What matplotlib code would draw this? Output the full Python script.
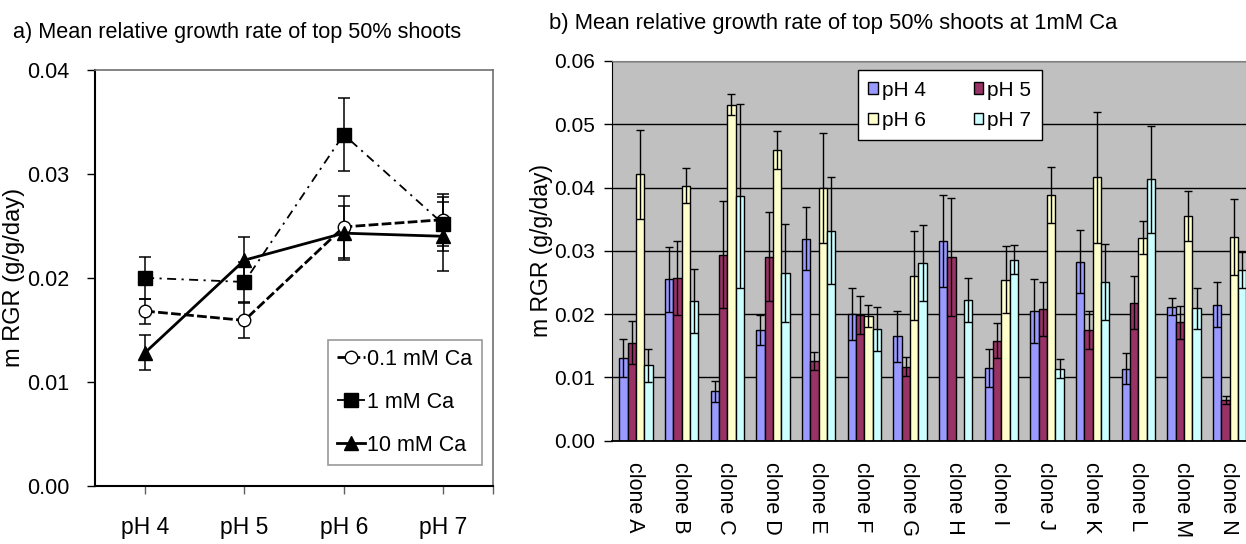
import numpy as np
import matplotlib
matplotlib.use("Agg")
import matplotlib.pyplot as plt
from matplotlib.lines import Line2D
from matplotlib.patches import Patch

font = "Liberation Sans"

# ---- panel a data ----
ph_labels = ["pH 4", "pH 5", "pH 6", "pH 7"]
ca01_mean = [0.0168, 0.0159, 0.0249, 0.0256]
ca01_err = [0.0012, 0.0017, 0.0030, 0.0025]
ca1_mean = [0.0200, 0.0196, 0.0338, 0.0252]
ca1_err = [0.0020, 0.0019, 0.0035, 0.0026]
ca10_mean = [0.0128, 0.0217, 0.0243, 0.0240]
ca10_err = [0.0017, 0.0022, 0.0026, 0.0033]

# ---- panel b data ----
clones = ["clone A", "clone B", "clone C", "clone D", "clone E", "clone F", "clone G",
          "clone H", "clone I", "clone J", "clone K", "clone L", "clone M", "clone N"]
ph4 = [0.0130, 0.0255, 0.0078, 0.0175, 0.0319, 0.0200, 0.0165, 0.0316, 0.0115, 0.0205, 0.0283, 0.0114, 0.0212, 0.0215]
ph4_err = [0.0030, 0.0051, 0.0017, 0.0023, 0.0050, 0.0041, 0.0040, 0.0073, 0.0030, 0.0051, 0.0050, 0.0024, 0.0013, 0.0035]
ph5 = [0.0155, 0.0257, 0.0294, 0.0291, 0.0126, 0.0198, 0.0117, 0.0290, 0.0158, 0.0208, 0.0175, 0.0218, 0.0187, 0.0064]
ph5_err = [0.0034, 0.0058, 0.0084, 0.0070, 0.0014, 0.0030, 0.0015, 0.0093, 0.0028, 0.0042, 0.0030, 0.0042, 0.0026, 0.0006]
ph6 = [0.0421, 0.0403, 0.0531, 0.0459, 0.0399, 0.0197, 0.0261, np.nan, 0.0254, 0.0388, 0.0416, 0.0321, 0.0355, 0.0322]
ph6_err = [0.0070, 0.0028, 0.0017, 0.0030, 0.0087, 0.0017, 0.0070, np.nan, 0.0053, 0.0044, 0.0103, 0.0026, 0.0040, 0.0060]
ph7 = [0.0119, 0.0221, 0.0387, 0.0265, 0.0332, 0.0176, 0.0281, 0.0222, 0.0286, 0.0114, 0.0251, 0.0413, 0.0209, 0.0270]
ph7_err = [0.0026, 0.0051, 0.0145, 0.0078, 0.0085, 0.0035, 0.0060, 0.0035, 0.0023, 0.0015, 0.0060, 0.0085, 0.0032, 0.0028]
ph_colors = ["#9999FF", "#993366", "#FFFFCC", "#CCFFFF"]

fig = plt.figure(figsize=(12.46, 5.44), dpi=100)

# ================= panel a =================
ax1 = fig.add_axes([0.0766, 0.1075, 0.3188, 0.7636])
x = np.arange(len(ph_labels))

series = [
    (ca01_mean, ca01_err, "0.1 mM Ca", dict(marker="o", mfc="white", ms=9, ls=(0, (3.5, 1.2)), lw=2.0)),
    (ca1_mean, ca1_err, "1 mM Ca", dict(marker="s", mfc="black", ms=10, ls=(0, (5, 3, 1.2, 3)), lw=1.3)),
    (ca10_mean, ca10_err, "10 mM Ca", dict(marker="^", mfc="black", ms=10, ls="-", lw=2.0)),
]
handles = []
for mean, err, lab, st in series:
    ax1.errorbar(x, mean, yerr=err, fmt="none", ecolor="black", elinewidth=1.1,
                 capsize=4, capthick=1.1, zorder=2)
    ax1.plot(x, mean, color="black", mec="black", mew=1.0, zorder=3, **st)
    handles.append(Line2D([], [], color="black", mec="black", mew=1.0, **st))

ax1.set_xlim(-0.5, 3.5)
ax1.set_ylim(0, 0.04)
ax1.set_yticks([0, 0.01, 0.02, 0.03, 0.04])
ax1.set_yticklabels(["0.00", "0.01", "0.02", "0.03", "0.04"], fontfamily=font, fontsize=15.5)
ax1.set_xticks(x)
ax1.set_xticklabels(ph_labels, fontfamily=font, fontsize=16.5)
ax1.set_xticks([3.5], minor=True)
ax1.tick_params(axis="y", direction="out", length=6, width=1, pad=13)
ax1.tick_params(axis="x", which="both", direction="out", length=6, width=1, color="#606060", pad=16)
for s in ["left", "bottom"]:
    ax1.spines[s].set_color("black")
    ax1.spines[s].set_linewidth(1.5)
for s in ["top", "right"]:
    ax1.spines[s].set_color("#707070")
    ax1.spines[s].set_linewidth(1.2)
ax1.set_ylabel("m RGR (g/g/day)", fontfamily=font, fontsize=17)
ax1.yaxis.set_label_coords(-0.178, 0.5)

leg1 = ax1.legend(handles, [s[2] for s in series], loc="lower right",
                  bbox_to_anchor=(0.972, 0.05), prop={"family": font, "size": 15.5},
                  handlelength=1.3, handletextpad=0.1, labelspacing=1.02, borderpad=0.42,
                  fancybox=False, frameon=True, borderaxespad=0)
leg1.get_frame().set_edgecolor("#808080")
leg1.get_frame().set_linewidth(1.2)

fig.text(0.0102, 0.941, "a) Mean relative growth rate of top 50% shoots",
         fontfamily=font, fontsize=15.6, va="center", ha="left")

# ================= panel b =================
ax2 = fig.add_axes([0.4909, 0.1899, 0.5133, 0.698])
ax2.set_facecolor("#C0C0C0")
xc = np.arange(len(clones))
w = 0.183
groups = [(ph4, ph4_err), (ph5, ph5_err), (ph6, ph6_err), (ph7, ph7_err)]
for j, (vals, errs) in enumerate(groups):
    pos = xc + (j - 1.5) * w + 0.03
    ax2.bar(pos, vals, width=w, color=ph_colors[j], edgecolor="black", linewidth=1.0, zorder=2)
    ax2.errorbar(pos, vals, yerr=errs, fmt="none", ecolor="black", elinewidth=1.0,
                 capsize=3, capthick=1.0, zorder=3)

ax2.set_xlim(-0.5, len(clones) - 0.5)
ax2.set_ylim(0, 0.06)
yt = [0, 0.01, 0.02, 0.03, 0.04, 0.05, 0.06]
ax2.set_yticks(yt)
ax2.set_yticklabels(["%.2f" % v for v in yt], fontfamily=font, fontsize=15)
ax2.yaxis.grid(True, color="black", linewidth=1.0, zorder=1)
ax2.set_axisbelow(True)
ax2.set_xticks(xc)
ax2.set_xticklabels(clones, rotation=-90, fontfamily=font, fontsize=15.5, va="top", ha="center")
ax2.tick_params(axis="x", length=0, pad=15)
ax2.tick_params(axis="y", direction="out", length=6, width=1, pad=6)
ax2.spines["right"].set_visible(False)
ax2.spines["top"].set_color("#808080")
ax2.spines["left"].set_color("black")
ax2.spines["bottom"].set_color("black")
ax2.spines["bottom"].set_linewidth(1.3)
ax2.set_ylabel("m RGR (g/g/day)", fontfamily=font, fontsize=16.5)
ax2.yaxis.set_label_coords(-0.092, 0.5)

ph_handles = [Patch(facecolor=c, edgecolor="black", linewidth=1.0) for c in ph_colors]
ph_names = ["pH 4", "pH 5", "pH 6", "pH 7"]
order = [0, 2, 1, 3]
leg2 = ax2.legend([ph_handles[i] for i in order], [ph_names[i] for i in order], ncol=2,
                  loc="upper left", bbox_to_anchor=(0.385, 0.976),
                  prop={"family": font, "size": 15}, handlelength=0.45, handleheight=0.45,
                  handletextpad=0.2, columnspacing=2.3, labelspacing=0.55, borderpad=0.5,
                  fancybox=False, frameon=True, framealpha=1, borderaxespad=0)
leg2.get_frame().set_edgecolor("black")
leg2.get_frame().set_linewidth(1.0)

fig.text(0.4409, 0.957, "b) Mean relative growth rate of top 50% shoots at 1mM Ca",
         fontfamily=font, fontsize=15.8, va="center", ha="left")

fig.savefig("out.png", dpi=100)
